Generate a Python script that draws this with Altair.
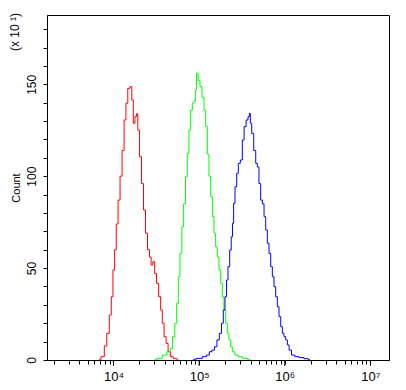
import math
import altair as alt
import pandas as pd

# log10 of fluorescence intensity, and counts (x10)
red_logx = [3.832, 3.879, 3.907, 3.937, 3.965, 3.984, 4.004, 4.023, 4.042, 4.065, 4.089, 4.112,
            4.136, 4.155, 4.179, 4.206, 4.222, 4.241, 4.261, 4.276, 4.292, 4.315, 4.339, 4.362,
            4.386, 4.409, 4.432, 4.447, 4.471, 4.491, 4.514, 4.541, 4.561, 4.579, 4.603, 4.626,
            4.650, 4.678, 4.716, 4.755]
red_count = [0.4, 1.8, 7.6, 14.5, 24.5, 34.4, 49, 60, 74, 87, 100, 114,
             130.6, 139.7, 147.8, 148.7, 141.5, 128.8, 132.4, 134, 125, 110.6, 96, 81.6,
             69, 60, 56, 51.7, 53.5, 47, 41.7, 34.4, 27.2, 20, 12.7, 9,
             4.5, 1.8, 0.9, 0.4]

green_logx = [4.482, 4.541, 4.599, 4.650, 4.678, 4.704, 4.728, 4.748, 4.766, 4.786, 4.810, 4.829,
              4.853, 4.871, 4.891, 4.911, 4.930, 4.953, 4.961, 4.977, 5.000, 5.020, 5.047, 5.067,
              5.086, 5.105, 5.125, 5.145, 5.164, 5.183, 5.203, 5.222, 5.242, 5.262, 5.280, 5.300,
              5.320, 5.339, 5.359, 5.378, 5.397, 5.437, 5.475, 5.534, 5.592]
green_count = [0.4, 0.9, 2.7, 4.5, 6.3, 12.7, 20, 30.8, 45.3, 58, 72.5, 85,
               99.7, 112.4, 125, 136, 139.7, 141, 147, 156, 152, 148.7, 143, 136,
               127, 112, 100, 88.8, 78, 69, 61.6, 56, 49, 41.7, 34.4, 27.2,
               20, 14.5, 10.9, 7.2, 4.5, 2.7, 1.8, 0.9, 0.4]

blue_logx = [4.930, 5.008, 5.067, 5.105, 5.133, 5.164, 5.195, 5.222, 5.250, 5.273, 5.292, 5.312,
             5.327, 5.347, 5.367, 5.382, 5.397, 5.409, 5.429, 5.449, 5.467, 5.495, 5.514, 5.537,
             5.561, 5.581, 5.592, 5.604, 5.624, 5.651, 5.671, 5.689, 5.709, 5.729, 5.748, 5.768,
             5.787, 5.806, 5.826, 5.846, 5.864, 5.884, 5.904, 5.923, 5.943, 5.963, 5.981, 6.001,
             6.021, 6.040, 6.060, 6.098, 6.138, 6.196, 6.255, 6.293]
blue_count = [0.4, 0.9, 1.8, 2.7, 4.5, 5.4, 7.2, 10.9, 14.5, 20, 27.2, 34.4,
              43.5, 50.8, 59.8, 67, 74.4, 85.3, 94.3, 101.6, 107, 108.8, 119.7, 127,
              130.6, 132.4, 134.2, 128.8, 123.3, 114, 107, 105, 96, 87, 85, 78,
              70.7, 63.5, 58, 50.8, 45.3, 39.9, 34.4, 29, 23.6, 18.1, 14.5, 12.7,
              10.9, 8.2, 5.4, 2.7, 1.8, 1.3, 0.7, 0.3]

major_exps = [4, 5, 6, 7]
major_labels = ["10⁴", "10⁵", "10⁶", "10⁷"]
x_min, x_max = 3.224, 7.217
y_max = 187.7

FONT = "Liberation Sans"

rows = []
for name, xs, ys in [("red", red_logx, red_count), ("green", green_logx, green_count),
                     ("blue", blue_logx, blue_count)]:
    for i, (a, b) in enumerate(zip(xs, ys)):
        rows.append({"series": name, "logx": a, "count": b, "order": i})
df = pd.DataFrame(rows)

minor_ticks = []
for n in range(3, 8):
    for k in range(1, 10):
        v = round(math.log10(k * 10 ** n), 6)
        if x_min <= v <= x_max:
            minor_ticks.append(v)

xscale = alt.Scale(domain=[x_min, x_max], nice=False, zero=False)
yscale = alt.Scale(domain=[0, y_max], nice=False, zero=True)

label_expr = " : ".join(
    f"abs(datum.value - {e}) < 0.001 ? '{lab}'" for e, lab in zip(major_exps, major_labels)
) + " : ''"

x_axis = alt.Axis(values=minor_ticks, labelExpr=label_expr, title=None, grid=False,
                  tickSize=4, tickColor="black", domainColor="black",
                  labelFont=FONT, labelFontSize=13, labelColor="black",
                  labelPadding=6, labelFlush=False, labelOverlap=False,
                  labelBound=False)

lines = alt.Chart(df).mark_line(strokeWidth=1, interpolate="step").encode(
    x=alt.X("logx:Q", scale=xscale, axis=x_axis),
    y=alt.Y("count:Q", scale=yscale,
            axis=alt.Axis(values=list(range(0, 190, 10)),
                          labelExpr="datum.value % 50 == 0 ? datum.label : ''",
                          title="Count", titleFont=FONT, titleFontSize=11,
                          titleFontWeight="normal", titleColor="black", titlePadding=4,
                          grid=False, tickSize=4, tickColor="black", domainColor="black",
                          labelFont=FONT, labelFontSize=12, labelColor="black",
                          labelAngle=270, labelAlign="center", labelBaseline="bottom",
                          labelPadding=5, labelOverlap=False, labelFlush=False)),
    color=alt.Color("series:N",
                    scale=alt.Scale(domain=["red", "green", "blue"],
                                    range=["#ff0000", "#00ff00", "#0000ff"]),
                    legend=None),
    order="order:Q",
)

major = alt.Chart(pd.DataFrame({"e": major_exps})).mark_rule(color="black", strokeWidth=1).encode(
    x=alt.X("e:Q", scale=xscale, axis=x_axis),
    y=alt.value(345),
    y2=alt.value(351),
)

mult = alt.Chart(pd.DataFrame({"t": ["(x 10 ¹)"]})).mark_text(
    angle=270, font=FONT, fontSize=12, color="black", align="center", baseline="middle"
).encode(text="t:N", x=alt.value(-32), y=alt.value(17))

chart = alt.layer(lines, major, mult).properties(
    width=342, height=345,
    autosize=alt.AutoSizeParams(type="none"),
    padding={"left": 39, "top": 7, "right": 9, "bottom": 22},
).configure_view(stroke="black", strokeWidth=1)

chart.save("out.html", embed_options={"renderer": "svg", "actions": False})
